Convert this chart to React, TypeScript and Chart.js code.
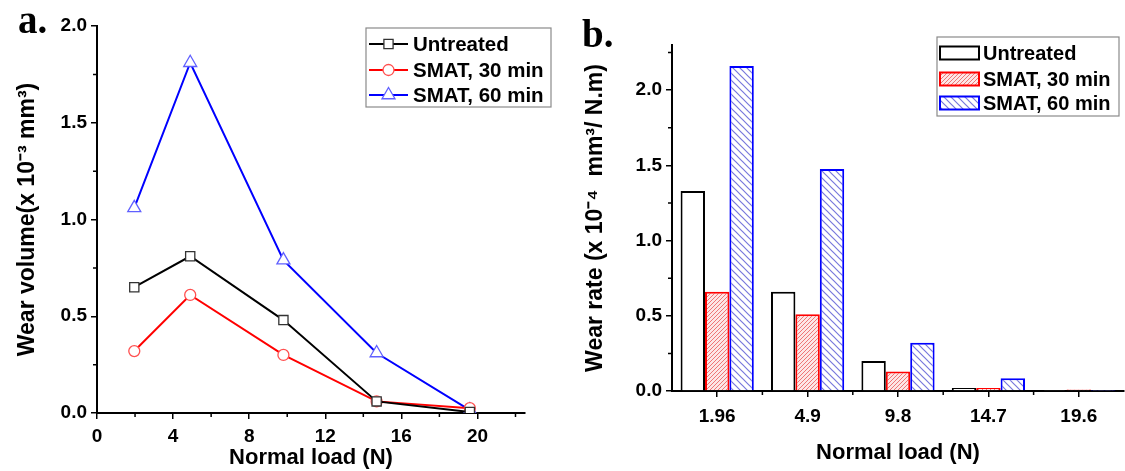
import React, { useEffect, useRef } from 'react';
import { Chart, registerables } from 'chart.js';
Chart.register(...registerables);

// ---------- data ----------
const loads = [1.96, 4.9, 9.8, 14.7, 19.6];
const loadLabels = ['1.96', '4.9', '9.8', '14.7', '19.6'];
const seriesNames = ['Untreated', 'SMAT, 30 min', 'SMAT, 60 min'];
const volUntreated = [0.65, 0.81, 0.48, 0.06, 0.005];
const volSmat30 = [0.32, 0.61, 0.30, 0.06, 0.025];
const volSmat60 = [1.06, 1.81, 0.79, 0.31, 0.015];
const rateUntreated = [1.33, 0.66, 0.20, 0.02, 0.003];
const rateSmat30 = [0.66, 0.51, 0.13, 0.02, 0.01];
const rateSmat60 = [2.16, 1.475, 0.32, 0.084, 0.002];
const volYTicks = [0, 0.5, 1.0, 1.5, 2.0];
const volYMinor = [0.25, 0.75, 1.25, 1.75];
const loadXTicks = [0, 4, 8, 12, 16, 20];
const loadXMinor = [2, 6, 10, 14, 18, 22];
const rateYTicks = [0, 0.5, 1.0, 1.5, 2.0];
const rateYMinor = [0.25, 0.75, 1.25, 1.75, 2.25];
const panelLabels = ['a.', 'b.'];
const volYTitle = 'Wear volume(x 10\u207B\u00B3 mm\u00B3)';
const rateYTitle = 'Wear rate (x 10\u207B\u2074  mm\u00B3/ N.m)';
const xTitle = 'Normal load (N)';

const SANS = "'Liberation Sans', Arial, sans-serif";
const SERIF = "'Liberation Serif', 'Times New Roman', serif";

function makeHatch(bg: string, fg: string, s: number, dir: string, lw: number) {
  const c = document.createElement('canvas');
  c.width = s; c.height = s;
  const g = c.getContext('2d')!;
  g.fillStyle = bg; g.fillRect(0, 0, s, s);
  g.strokeStyle = fg; g.lineWidth = lw;
  g.beginPath();
  if (dir === '/') {
    g.moveTo(0, s); g.lineTo(s, 0);
    g.moveTo(-1, 1); g.lineTo(1, -1);
    g.moveTo(s - 1, s + 1); g.lineTo(s + 1, s - 1);
  } else {
    g.moveTo(0, 0); g.lineTo(s, s);
    g.moveTo(-1, s - 1); g.lineTo(1, s + 1);
    g.moveTo(s - 1, -1); g.lineTo(s + 1, 1);
  }
  g.stroke();
  const ctx = document.createElement('canvas').getContext('2d')!;
  return ctx.createPattern(c, 'repeat')!;
}

function drawMarker(ctx: CanvasRenderingContext2D, style: string, x: number, y: number, r: number) {
  ctx.beginPath();
  if (style === 'rect') {
    const h = r * Math.SQRT1_2;
    ctx.rect(x - h, y - h, 2 * h, 2 * h);
  } else if (style === 'triangle') {
    const a = Math.PI / 2;
    ctx.moveTo(x + Math.cos(-a) * r, y + Math.sin(-a) * r);
    ctx.lineTo(x + Math.cos(-a + (2 * Math.PI) / 3) * r, y + Math.sin(-a + (2 * Math.PI) / 3) * r);
    ctx.lineTo(x + Math.cos(-a + (4 * Math.PI) / 3) * r, y + Math.sin(-a + (4 * Math.PI) / 3) * r);
    ctx.closePath();
  } else {
    ctx.arc(x, y, r, 0, Math.PI * 2);
  }
  ctx.fill();
  ctx.stroke();
}

const minorTicksPlugin = {
  id: 'minorTicks',
  afterDraw(chart: any, _a: any, opts: any) {
    const ctx = chart.ctx;
    const xs = chart.scales.x, ys = chart.scales.y;
    const { left, bottom } = chart.chartArea;
    ctx.save();
    ctx.strokeStyle = '#000';
    ctx.lineWidth = 1.5;
    ctx.beginPath();
    (opts.y || []).forEach((v: number) => {
      const p = ys.getPixelForValue(v);
      ctx.moveTo(left - 4, p); ctx.lineTo(left, p);
    });
    (opts.x || []).forEach((v: number) => {
      const p = xs.getPixelForValue(v);
      ctx.moveTo(p, bottom); ctx.lineTo(p, bottom + 4);
    });
    if (opts.catBounds) {
      const n = chart.data.labels.length;
      const step = xs.getPixelForValue(1) - xs.getPixelForValue(0);
      for (let i = 0; i < n - 1; i++) {
        const p = xs.getPixelForValue(i) + step / 2;
        ctx.moveTo(p, bottom); ctx.lineTo(p, bottom + 4);
      }
    }
    ctx.stroke();
    ctx.restore();
  },
};

const panelLabelPlugin = {
  id: 'panelLabel',
  afterDraw(chart: any, _a: any, opts: any) {
    const ctx = chart.ctx;
    ctx.save();
    ctx.font = `bold ${opts.size}px ${SERIF}`;
    ctx.fillStyle = '#000';
    ctx.textBaseline = 'alphabetic';
    ctx.textAlign = 'left';
    ctx.fillText(opts.text, opts.x, opts.y);
    ctx.restore();
  },
};

const boxLegendPlugin = {
  id: 'boxLegend',
  afterDraw(chart: any, _a: any, opts: any) {
    const ctx = chart.ctx;
    ctx.save();
    ctx.fillStyle = '#fff';
    ctx.strokeStyle = '#8a8a8a';
    ctx.lineWidth = 1.2;
    ctx.fillRect(opts.x, opts.y, opts.w, opts.h);
    ctx.strokeRect(opts.x, opts.y, opts.w, opts.h);
    chart.data.datasets.forEach((ds: any, i: number) => {
      const y = opts.rows[i];
      const sx = opts.x + opts.sx;
      if (opts.kind === 'line') {
        ctx.strokeStyle = ds.borderColor;
        ctx.lineWidth = 2;
        ctx.beginPath();
        ctx.moveTo(sx, y); ctx.lineTo(sx + opts.sw, y);
        ctx.stroke();
        ctx.fillStyle = '#fff';
        ctx.strokeStyle = ds.pointBorderColor;
        ctx.lineWidth = ds.pointBorderWidth;
        drawMarker(ctx, ds.pointStyle, sx + opts.sw / 2, y, ds.pointRadius);
      } else {
        ctx.fillStyle = ds.backgroundColor;
        ctx.fillRect(sx, y - opts.sh / 2, opts.sw, opts.sh);
        ctx.strokeStyle = ds.borderColor;
        ctx.lineWidth = 2;
        ctx.strokeRect(sx, y - opts.sh / 2, opts.sw, opts.sh);
      }
      ctx.fillStyle = '#000';
      ctx.font = `bold ${opts.font}px ${SANS}`;
      ctx.textBaseline = 'middle';
      ctx.textAlign = 'left';
      ctx.fillText(ds.label, opts.x + opts.tx, y + 1);
    });
    ctx.restore();
  },
};

function axisCommon(tickSize: number) {
  return {
    border: { display: true, color: '#000', width: 2 },
    grid: { drawOnChartArea: false, drawTicks: true, tickLength: 6, color: '#000', lineWidth: 1.5 },
    ticks: { color: '#000', font: { family: SANS, size: tickSize, weight: 'bold' as const } },
  };
}

export default function App() {
  const ref1 = useRef<HTMLCanvasElement>(null);
  const ref2 = useRef<HTMLCanvasElement>(null);

  useEffect(() => {
    const c1 = axisCommon(19);
    const mk = (ys: number[]) => loads.map((x, i) => ({ x, y: ys[i] }));
    const chart1 = new Chart(ref1.current!, {
      type: 'line',
      data: {
        datasets: [
          { label: seriesNames[0], data: mk(volUntreated), borderColor: '#000', borderWidth: 2, pointStyle: 'rect', pointRadius: 6.5, pointBorderColor: '#333', pointBorderWidth: 1.3, pointBackgroundColor: '#fff' },
          { label: seriesNames[1], data: mk(volSmat30), borderColor: '#ff0000', borderWidth: 2, pointStyle: 'circle', pointRadius: 5.5, pointBorderColor: '#ff5050', pointBorderWidth: 1.3, pointBackgroundColor: '#fff' },
          { label: seriesNames[2], data: mk(volSmat60), borderColor: '#0000ff', borderWidth: 2, pointStyle: 'triangle', pointRadius: 7.5, pointBorderColor: '#6060ff', pointBorderWidth: 1.3, pointBackgroundColor: '#fff' },
        ] as any,
      },
      options: {
        responsive: false,
        maintainAspectRatio: false,
        animation: false,
        layout: { padding: { top: 26, right: 35, left: 0, bottom: 0 } },
        plugins: {
          legend: { display: false },
          tooltip: { enabled: false },
          minorTicks: { x: loadXMinor, y: volYMinor },
          panelLabel: { text: panelLabels[0], x: 18, y: 33, size: 39 },
          boxLegend: { kind: 'line', x: 366, y: 28, w: 185, h: 79, rows: [44, 70, 95], sx: 3, sw: 39, tx: 47, font: 20.5 },
        } as any,
        scales: {
          x: {
            type: 'linear', min: 0, max: 22.5,
            ...c1,
            ticks: { ...c1.ticks, padding: 6, maxRotation: 0, callback: (v: any) => String(v) },
            afterBuildTicks: (s: any) => { s.ticks = loadXTicks.map((v) => ({ value: v })); },
            afterFit: (s: any) => { s.height = 58; },
            title: { display: true, text: xTitle, color: '#000', font: { family: SANS, size: 22, weight: 'bold' }, padding: { top: 0, bottom: 0 } },
          },
          y: {
            type: 'linear', min: 0, max: 2.0,
            ...c1,
            ticks: { ...c1.ticks, padding: 4, callback: (v: any) => Number(v).toFixed(1) },
            afterBuildTicks: (s: any) => { s.ticks = volYTicks.map((v) => ({ value: v })); },
            afterFit: (s: any) => { s.width = 97; },
            title: { display: true, text: volYTitle, color: '#000', font: { family: SANS, size: 23, weight: 'bold' }, padding: { top: 14, bottom: 0 } },
          },
        } as any,
      },
      plugins: [minorTicksPlugin, panelLabelPlugin, boxLegendPlugin],
    });

    const redHatch = makeHatch('#fde6e6', 'rgba(232,80,80,0.75)', 4, '/', 1);
    const blueHatch = makeHatch('#ffffff', '#7878dc', 7, '\\', 1.2);
    const c2 = axisCommon(19);
    const chart2 = new Chart(ref2.current!, {
      type: 'bar',
      data: {
        labels: loadLabels,
        datasets: [
          { label: seriesNames[0], data: rateUntreated, backgroundColor: '#ffffff', borderColor: '#000', borderWidth: 2 },
          { label: seriesNames[1], data: rateSmat30, backgroundColor: redHatch, borderColor: '#ff0000', borderWidth: 2 },
          { label: seriesNames[2], data: rateSmat60, backgroundColor: blueHatch, borderColor: '#0000ff', borderWidth: 2 },
        ] as any,
      },
      options: {
        responsive: false,
        maintainAspectRatio: false,
        animation: false,
        datasets: { bar: { categoryPercentage: 0.81, barPercentage: 1.0 } },
        layout: { padding: { top: 45, right: 1, left: 0, bottom: 0 } },
        plugins: {
          legend: { display: false },
          tooltip: { enabled: false },
          minorTicks: { y: rateYMinor, catBounds: true },
          panelLabel: { text: panelLabels[1], x: 22, y: 47, size: 39 },
          boxLegend: { kind: 'bar', x: 377, y: 37, w: 182, h: 79, rows: [53, 79, 103], sx: 3, sw: 39, sh: 13, tx: 46, font: 20 },
        } as any,
        scales: {
          x: {
            type: 'category',
            offset: true,
            ...c2,
            grid: { ...c2.grid, offset: false },
            ticks: { ...c2.ticks, padding: 8, maxRotation: 0, autoSkip: false },
            afterFit: (s: any) => { s.height = 80; },
            title: { display: true, text: xTitle, color: '#000', font: { family: SANS, size: 22, weight: 'bold' }, padding: { top: 0, bottom: 5 } },
          },
          y: {
            type: 'linear', min: 0, max: 2.3,
            ...c2,
            ticks: { ...c2.ticks, padding: 4, callback: (v: any) => Number(v).toFixed(1) },
            afterBuildTicks: (s: any) => { s.ticks = rateYTicks.map((v) => ({ value: v })); },
            afterFit: (s: any) => { s.width = 112; },
            title: { display: true, text: rateYTitle, color: '#000', font: { family: SANS, size: 23, weight: 'bold' }, padding: { top: 22, bottom: 0 } },
          },
        } as any,
      },
      plugins: [minorTicksPlugin, panelLabelPlugin, boxLegendPlugin],
    });

    return () => { chart1.destroy(); chart2.destroy(); };
  }, []);

  return (
    <div style={{ position: 'absolute', left: 0, top: 0, width: 1125, height: 471, background: '#fff' }}>
      <canvas ref={ref1} width={560} height={471} style={{ position: 'absolute', left: 0, top: 0, width: 560, height: 471 }} />
      <canvas ref={ref2} width={565} height={471} style={{ position: 'absolute', left: 560, top: 0, width: 565, height: 471 }} />
    </div>
  );
}
